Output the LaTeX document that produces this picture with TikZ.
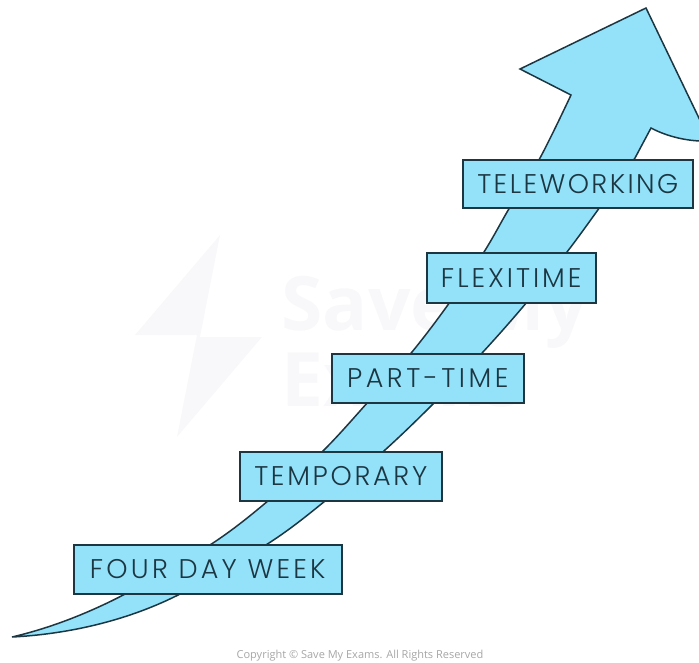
\documentclass[tikz,border=0pt]{standalone}
\usepackage{fontspec}
\setmainfont{Poppins}[UprightFont=* Light]
\newfontfamily\copyfont{Open Sans}
\definecolor{skyfill}{HTML}{93E2FA}
\definecolor{inkline}{HTML}{1C3642}
\definecolor{markfaint}{HTML}{F8F8FA}
\newcommand{\spaced}[2]{\addfontfeature{LetterSpace=#1}#2}
\tikzset{
  stagebox/.style={draw=inkline,fill=skyfill,line width=1.5pt,inner sep=0pt,anchor=north west,text=inkline,
    font=\fontsize{27}{30}\selectfont},
  arrowbody/.style={draw=inkline,fill=skyfill,line width=1.5pt,line join=miter}
}
\begin{document}
\begin{tikzpicture}[x=1pt,y=-1pt]
\useasboundingbox (0,0) rectangle (699,662);
\clip (0,0) rectangle (699,662);
% watermark
\fill[markfaint] (220,235) -- (135,335) -- (197,335) -- (177,437) -- (262,337) -- (200,337) -- cycle;
\node[anchor=west,text=markfaint,font=\copyfont\bfseries\fontsize{75}{80}\selectfont] (wmone) at (278,312) {Save My};
\node[anchor=west,text=markfaint,font=\copyfont\bfseries\fontsize{75}{80}\selectfont] (wmtwo) at (278,380) {Exams};
% arrow
\draw[arrowbody]
  (12,637) .. controls (55,627) and (95,610) .. (127,593)
  -- plot[smooth,tension=0.6] coordinates {(127,593) (213,543) (275,495) (324,450) (368,402) (412,352) (450,302) (484,252) (510,207) (540,158) (571,95)}
  -- (520,69) -- (646,8) -- (710,141)
  .. controls (690,142) and (668,137) .. (651,128)
  -- (635,158)
  -- plot[smooth,tension=0.6] coordinates {(635,158) (600,207) (567,252) (527,302) (483,352) (435,402) (385,450) (330,497) (269,543) (182,593)}
  .. controls (130,620) and (70,634) .. (12,637)
  -- cycle;
% stages
\node[stagebox,minimum width=230pt,minimum height=48pt] (tele) at (462,159) {\spaced{9}{TELEWORKING}};
\node[stagebox,minimum width=169pt,minimum height=50pt] (flexi) at (426,252) {\spaced{11}{FLEXITIME}};
\node[stagebox,minimum width=192pt,minimum height=49pt] (part) at (331,353) {\spaced{13}{PART-TIME}};
\node[stagebox,minimum width=202pt,minimum height=49pt] (temp) at (239,451) {\spaced{10}{TEMPORARY}};
\node[stagebox,minimum width=268pt,minimum height=49pt] (four) at (73,544) {\spaced{12}{FOUR DAY WEEK}};
\node[text=black!35,font=\copyfont\fontsize{11}{13}\selectfont] (copy) at (360,656) {Copyright © Save My Exams. All Rights Reserved};
\end{tikzpicture}
\end{document}
